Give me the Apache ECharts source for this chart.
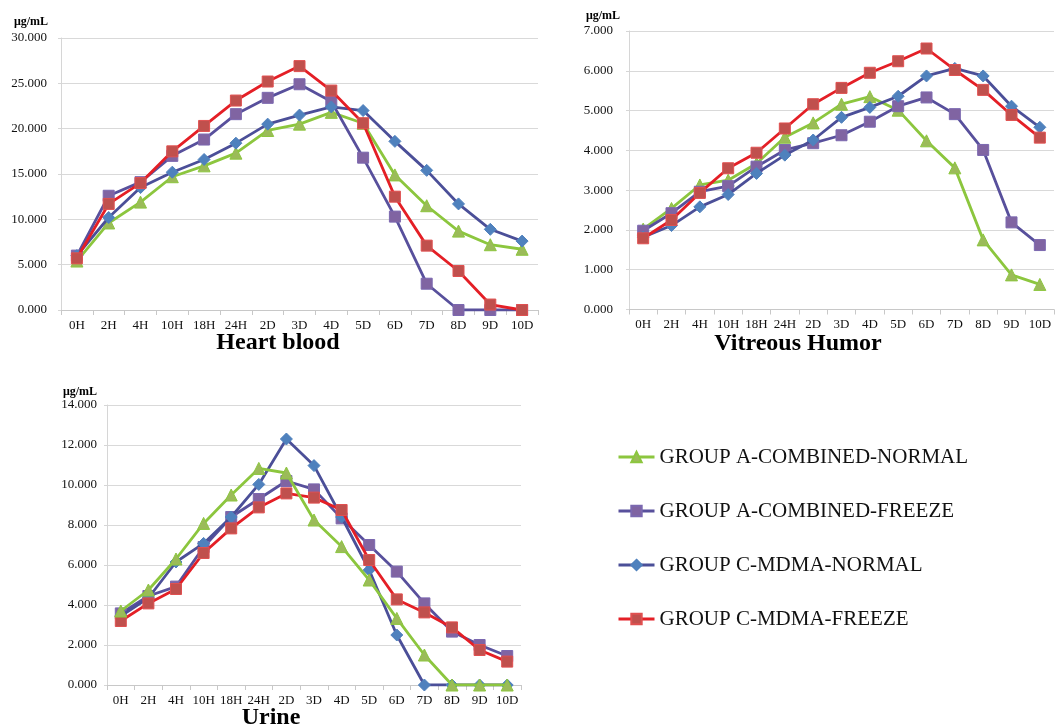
<!DOCTYPE html>
<html>
<head>
<meta charset="utf-8">
<script src="https://cdn.jsdelivr.net/npm/echarts@6/dist/echarts.min.js"></script>
<style>
html,body{margin:0;padding:0;background:#fff;}
#main{width:1060px;height:728px;}
</style>
</head>
<body>
<div id="main"></div>
<script>
var categories = ['0H','2H','4H','10H','18H','24H','2D','3D','4D','5D','6D','7D','8D','9D','10D'];
var seriesNames = ['GROUP A-COMBINED-NORMAL','GROUP A-COMBINED-FREEZE','GROUP C-MDMA-NORMAL','GROUP C-MDMA-FREEZE'];

// Heart blood
var heartANormal = [5.4, 9.6, 11.9, 14.7, 15.9, 17.3, 19.8, 20.5, 21.8, 20.6, 14.9, 11.5, 8.7, 7.2, 6.7];
var heartAFreeze = [6.0, 12.6, 14.1, 17.0, 18.8, 21.6, 23.4, 24.9, 23.0, 16.8, 10.3, 2.9, 0, 0, 0];
var heartCNormal = [6.0, 10.2, 13.5, 15.2, 16.6, 18.4, 20.5, 21.5, 22.4, 22.0, 18.6, 15.4, 11.7, 8.9, 7.6];
var heartCFreeze = [5.7, 11.7, 14.0, 17.5, 20.3, 23.1, 25.2, 26.9, 24.2, 20.6, 12.5, 7.1, 4.3, 0.6, 0];

// Vitreous humor
var vitrANormal = [2.02, 2.54, 3.13, 3.25, 3.67, 4.33, 4.69, 5.16, 5.35, 5.01, 4.24, 3.56, 1.75, 0.87, 0.63];
var vitrAFreeze = [1.98, 2.42, 2.96, 3.10, 3.59, 4.01, 4.18, 4.38, 4.72, 5.11, 5.33, 4.91, 4.01, 2.19, 1.62];
var vitrCNormal = [1.82, 2.11, 2.58, 2.89, 3.42, 3.88, 4.26, 4.83, 5.08, 5.36, 5.87, 6.06, 5.87, 5.11, 4.58];
var vitrCFreeze = [1.79, 2.25, 2.93, 3.55, 3.94, 4.55, 5.16, 5.57, 5.95, 6.24, 6.56, 6.02, 5.52, 4.89, 4.32];

// Urine
var urineANormal = [3.7, 4.75, 6.3, 8.08, 9.5, 10.83, 10.6, 8.25, 6.92, 5.25, 3.33, 1.5, 0, 0, 0];
var urineAFreeze = [3.58, 4.45, 4.92, 6.9, 8.4, 9.3, 10.2, 9.78, 8.33, 7.0, 5.67, 4.08, 2.67, 2.0, 1.45];
var urineCNormal = [3.45, 4.35, 6.15, 7.08, 8.4, 10.03, 12.3, 10.97, 8.4, 5.75, 2.5, 0, 0, 0, 0];
var urineCFreeze = [3.2, 4.08, 4.8, 6.6, 7.83, 8.88, 9.58, 9.37, 8.75, 6.25, 4.28, 3.63, 2.88, 1.75, 1.17];

// Axis settings (max, interval)
var yMax = [30, 7, 14];
var yInterval = [5, 1, 2];
var panelTitles = ['Heart blood', 'Vitreous Humor', 'Urine'];
var unitLabel = 'μg/mL';

var serif = "'Liberation Serif','Times New Roman',serif";
var styles = [
  {symbol:'triangle', line:'#8cc63e', fill:'#9bbb59', border:'#8cc63e', size:12},
  {symbol:'rect', line:'#58509c', fill:'#8064a2', border:'#7b68b0', size:11},
  {symbol:'diamond', line:'#4b4f98', fill:'#4f81bd', border:'#4f81bd', size:12},
  {symbol:'rect', line:'#e41f26', fill:'#c0504d', border:'#e05050', size:11}
];
var data = [
  [heartANormal, heartAFreeze, heartCNormal, heartCFreeze],
  [vitrANormal, vitrAFreeze, vitrCNormal, vitrCFreeze],
  [urineANormal, urineAFreeze, urineCNormal, urineCFreeze]
];

var grids = [
  {left:61, top:38, width:477, height:272},
  {left:629, top:31, width:425, height:278.5},
  {left:107, top:405, width:414, height:280}
];
var yLabelMargins = [14, 16, 10];

var xAxes = [], yAxes = [], series = [];
for (var g = 0; g < 3; g++) {
  xAxes.push({
    type:'category', gridIndex:g, data:categories, boundaryGap:true,
    axisLine:{lineStyle:{color:'#c8c8c8', width:1}},
    axisTick:{show:true, length:5, lineStyle:{color:'#c8c8c8'}},
    axisLabel:{interval:0, margin:9, color:'#111', fontSize:13, fontFamily:serif}
  });
  yAxes.push({
    type:'value', gridIndex:g, min:0, max:yMax[g], interval:yInterval[g],
    axisLine:{show:true, lineStyle:{color:'#d6d6d6'}},
    axisTick:{show:true, length:3, lineStyle:{color:'#d6d6d6'}},
    splitLine:{lineStyle:{color:'#d9d9d9', width:1.2}},
    axisLabel:{margin:yLabelMargins[g], color:'#111', fontSize:13, fontFamily:serif,
      formatter:function(v){return v.toFixed(3);}}
  });
  for (var s = 0; s < 4; s++) {
    var st = styles[s];
    series.push({
      name:seriesNames[s], type:'line', xAxisIndex:g, yAxisIndex:g,
      data:data[g][s], symbol:st.symbol, symbolSize:st.size, showSymbol:true,
      z: (g === 2 && s === 0) ? 5 : 2 + s * 0.1,
      lineStyle:{color:st.line, width:2.8},
      itemStyle:{color:st.fill, borderColor:st.border, borderWidth:1},
      emphasis:{disabled:true}, animation:false
    });
  }
}

var titleFont = 'bold 24px ' + serif;
var unitFont = 'bold 12px ' + serif;
var graphics = [
  {type:'text', x:278, y:343, style:{text:panelTitles[0], font:titleFont, fill:'#000', textAlign:'center', textVerticalAlign:'middle'}},
  {type:'text', x:798, y:344, style:{text:panelTitles[1], font:titleFont, fill:'#000', textAlign:'center', textVerticalAlign:'middle'}},
  {type:'text', x:271, y:718, style:{text:panelTitles[2], font:titleFont, fill:'#000', textAlign:'center', textVerticalAlign:'middle'}},
  {type:'text', x:31, y:22, style:{text:unitLabel, font:unitFont, fill:'#000', textAlign:'center', textVerticalAlign:'middle'}},
  {type:'text', x:603, y:16, style:{text:unitLabel, font:unitFont, fill:'#000', textAlign:'center', textVerticalAlign:'middle'}},
  {type:'text', x:80, y:392, style:{text:unitLabel, font:unitFont, fill:'#000', textAlign:'center', textVerticalAlign:'middle'}}
];

var chart = echarts.init(document.getElementById('main'), null, {renderer:'canvas'});
chart.setOption({
  animation:false,
  backgroundColor:'#fff',
  grid:grids,
  xAxis:xAxes,
  yAxis:yAxes,
  series:series,
  graphic:graphics,
  legend:{
    orient:'vertical', left:612, top:441,
    data:seriesNames,
    itemWidth:36, itemHeight:13, itemGap:32,
    lineStyle:{width:3},
    textStyle:{fontSize:21, lineHeight:22, color:'#111', fontFamily:serif}
  }
});
</script>
</body>
</html>
